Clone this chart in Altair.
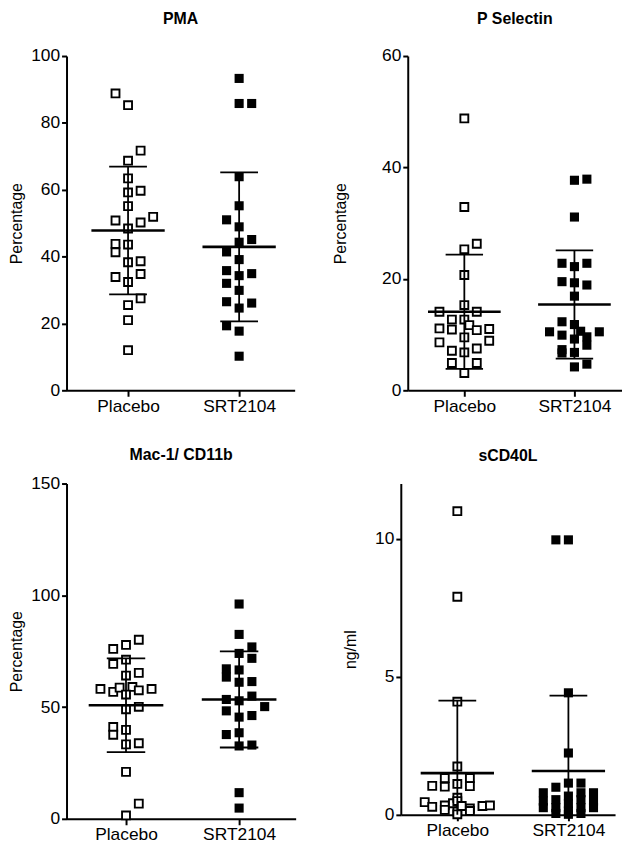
import altair as alt
import pandas as pd

categories = ["Placebo", "SRT2104"]

# ---- PMA ----
pma_placebo = [88.8, 85.3, 71.7, 68.7, 63.4, 59.2, 59.7, 55.1, 50.8, 50.2, 51.9, 48.4,
               43.8, 43.6, 41.3, 38.3, 38.6, 33.9, 34.8, 32.4, 27.5, 25.5, 21.0, 12.0]
pma_placebo_slot = [-1, 0, 1, 0, 0, 0, 1, 0, -1, 1, 2, 0,
                    -1, 0, -1, 0, 1, -1, 1, 0, 1, 0, 0, 0]
pma_srt = [93.3, 85.8, 85.8, 63.9, 55.2, 51.0, 48.9, 45.1, 44.3, 41.4, 39.1,
           35.8, 34.3, 34.9, 32.0, 29.9, 26.5, 26.1, 24.6, 19.3, 17.7, 10.2]
pma_srt_slot = [0, 0, 1, 0, 0, -1, 0, 1, 0, -1, 0,
                -1, 0, 1, -1, 0, -1, 1, 0, -1, 0, 0]
pma_mean = [47.8, 42.9]
pma_sd = [19.1, 22.3]

# ---- P Selectin ----
psel_placebo = [48.8, 32.9, 25.3, 26.3, 20.7, 15.3, 14.1, 14.1, 12.7, 12.7, 11.7, 11.1,
                10.9, 10.8, 11.0, 9.5, 8.6, 8.9, 7.1, 6.8, 7.5, 4.9, 4.9, 3.1]
psel_placebo_slot = [0, 0, 0, 1, 0, 0, -2, 1, -1, 0, 0.4, -2,
                     -1, 1, 2, 0, -2, 2, -1, 0, 1, -1, 1, 0]
psel_srt = [37.7, 37.9, 31.1, 22.8, 22.2, 22.8, 19.5, 19.3, 18.9, 16.9, 12.3, 11.8,
            10.5, 9.9, 10.6, 10.5, 9.2, 9.6, 8.1, 7.3, 6.7, 6.8, 4.2, 4.7]
psel_srt_slot = [0, 1, 0, -1, 0, 1, -1, 0, 1, 0, -1, 0,
                 -2, -1, 0.5, 2, 0, 1, 1, -1, -1, 0, 0, 1]
psel_mean = [14.1, 15.4]
psel_sd = [10.25, 9.7]

# ---- Mac-1 / CD11b ----
mac_placebo = [80.1, 76.0, 77.8, 71.2, 69.3, 64.1, 65.3, 58.1, 56.8, 58.7, 59.0, 55.6,
               57.5, 58.1, 49.0, 50.1, 41.1, 39.8, 37.6, 33.3, 33.8, 21.0, 6.8, 1.5]
mac_placebo_slot = [1, -1, 0, 0, -1, 0, 1, -2, -1, -0.5, 0.5, 0,
                    1, 2, 0, 1, -1, 0, -1, 0, 1, 0, 1, 0]
mac_srt = [96.1, 82.5, 76.9, 74.0, 71.8, 67.1, 63.4, 66.6, 61.1, 61.4, 54.9, 53.4,
           52.8, 50.2, 48.3, 45.5, 46.2, 37.7, 38.5, 32.6, 33.0, 11.7, 4.8]
mac_srt_slot = [0, 0, 1, 0, 1, -1, -1, 0, 0, 1, 1, -1,
                0, 2, -1, 0, 1, -1, 0, 0, 1, 0, 0]
mac_mean = [50.8, 53.4]
mac_sd = [21.0, 21.5]

# ---- sCD40L ----
cd40_placebo = [11.0, 7.9, 4.1, 1.75, 1.05, 1.33, 1.02, 1.12, 1.33, 1.04,
                0.46, 0.29, 0.34, 0.18, 0.42, 0.62, 0.50, 0.12, 0.02, 0.32, 0.23, 0.14, 0.32, 0.34]
cd40_placebo_slot = [0, 0, 0, 0, -2, -1, -1, 0, 1, 1,
                     -2.6, -2, -1, -1, -0.35, 0, 0, 0, 0, 0.35, 1, 1, 2, 2.6]
cd40_srt = [9.96, 9.96, 4.42, 2.24,
            1.15, 0.68, 0.40, 0.14, 0.02,
            1.15, 0.80, 0.55, 0.26, 0.05,
            1.00, 0.55, 0.26, 0.05,
            0.80, 0.50, 0.26,
            0.80, 0.50, 0.26]
cd40_srt_slot = [-1, 0, 0, 0,
                 0, 0, 0, 0, 0,
                 1, 1, 1, 1, 1,
                 -1, -1, -1, -1,
                 -2, -2, -2,
                 2, 2, 2]
cd40_mean = [1.51, 1.59]
cd40_sd = [2.63, 2.73]

FONT = "Liberation Sans"
SLOT = 0.113  # horizontal jitter step, in category units


def panel(title, pl, pl_slot, sr, sr_slot, means, sds, ydom, yticks, ytitle,
          width, height, xdom, title_offset, title_pad):
    pts_p = pd.DataFrame({"x": [0 + s * SLOT for s in pl_slot], "y": pl})
    pts_s = pd.DataFrame({"x": [1 + s * SLOT for s in sr_slot], "y": sr})
    summ = pd.DataFrame({
        "i": [0, 1],
        "mean": means,
        "lo": [m - s for m, s in zip(means, sds)],
        "hi": [m + s for m, s in zip(means, sds)],
    })
    summ["ml"] = summ["i"] - 0.33
    summ["mr"] = summ["i"] + 0.33
    summ["cl"] = summ["i"] - 0.17
    summ["cr"] = summ["i"] + 0.17

    label_expr = "datum.value == 0 ? '%s' : '%s'" % (categories[0], categories[1])
    xscale = alt.Scale(domain=xdom, nice=False, zero=False)
    yscale = alt.Scale(domain=ydom, nice=False, zero=False)
    xaxis = alt.Axis(values=[0, 1], labelExpr=label_expr, title=None, grid=False,
                     domainColor="black", domainWidth=2, tickColor="black", tickWidth=2,
                     tickSize=6, labelFontSize=17.5, labelFont=FONT, labelColor="black",
                     labelPadding=1, labelFlush=False)
    yaxis = alt.Axis(values=yticks, title=ytitle, grid=False, domainColor="black",
                     domainWidth=2, tickColor="black", tickWidth=2, tickSize=5,
                     labelFontSize=17.5, labelFont=FONT, labelColor="black", labelPadding=2,
                     titleFont=FONT, titleFontSize=16, titleFontWeight="normal",
                     titleColor="black", titlePadding=title_pad, labelFlush=False)

    p_layer = alt.Chart(pts_p).mark_point(shape="square", size=64, filled=True,
                                          fill="white", stroke="black", strokeWidth=1.9,
                                          opacity=1).encode(
        x=alt.X("x:Q", scale=xscale, axis=xaxis),
        y=alt.Y("y:Q", scale=yscale, axis=yaxis),
    )
    s_layer = alt.Chart(pts_s).mark_square(size=84, color="black", opacity=1).encode(
        x=alt.X("x:Q", scale=xscale),
        y=alt.Y("y:Q", scale=yscale),
    )
    base = alt.Chart(summ)
    mean_rule = base.mark_rule(color="black", strokeWidth=2.6, clip=True).encode(
        x=alt.X("ml:Q", scale=xscale), x2="mr:Q", y=alt.Y("mean:Q", scale=yscale))
    vert_rule = base.mark_rule(color="black", strokeWidth=1.8, clip=True).encode(
        x=alt.X("i:Q", scale=xscale), y=alt.Y("lo:Q", scale=yscale), y2="hi:Q")
    cap_hi = base.mark_rule(color="black", strokeWidth=1.8, clip=True).encode(
        x=alt.X("cl:Q", scale=xscale), x2="cr:Q", y=alt.Y("hi:Q", scale=yscale))
    cap_lo = base.mark_rule(color="black", strokeWidth=1.8, clip=True).encode(
        x=alt.X("cl:Q", scale=xscale), x2="cr:Q", y=alt.Y("lo:Q", scale=yscale))

    return alt.layer(p_layer, s_layer, mean_rule, vert_rule, cap_hi, cap_lo).properties(
        width=width, height=height,
        title=alt.TitleParams(title, font=FONT, fontSize=16, fontWeight="bold",
                              color="black", offset=title_offset, anchor="middle",
                              frame="group"),
    )


c1 = panel("PMA", pma_placebo, pma_placebo_slot, pma_srt, pma_srt_slot, pma_mean, pma_sd,
           [0, 100], [0, 20, 40, 60, 80, 100], "Percentage", 230, 337,
           [-0.554, 1.5], 20, 6)
c2 = panel("P Selectin", psel_placebo, psel_placebo_slot, psel_srt, psel_srt_slot,
           psel_mean, psel_sd, [0, 60], [0, 20, 40, 60], "Percentage", 216, 337,
           [-0.514, 1.432], 20, 33)
c3 = panel("Mac-1/ CD11b", mac_placebo, mac_placebo_slot, mac_srt, mac_srt_slot,
           mac_mean, mac_sd, [0, 150], [0, 50, 100, 150], "Percentage", 231, 338,
           [-0.526, 1.5], 12, 6)
c4 = panel("sCD40L", cd40_placebo, cd40_placebo_slot, cd40_srt, cd40_srt_slot,
           cd40_mean, cd40_sd, [0, 12], [0, 5, 10], "ng/ml", 216, 334,
           [-0.509, 1.42], 20, 16)

top = alt.hconcat(c1, c2, spacing=38)
bottom = alt.hconcat(c3, c4, spacing=47)
chart = alt.vconcat(top, bottom, spacing=32).properties(
    padding=0, background="white").configure_view(strokeWidth=0, stroke="transparent")

chart.save("out.html", embed_options={"renderer": "svg", "actions": False})
